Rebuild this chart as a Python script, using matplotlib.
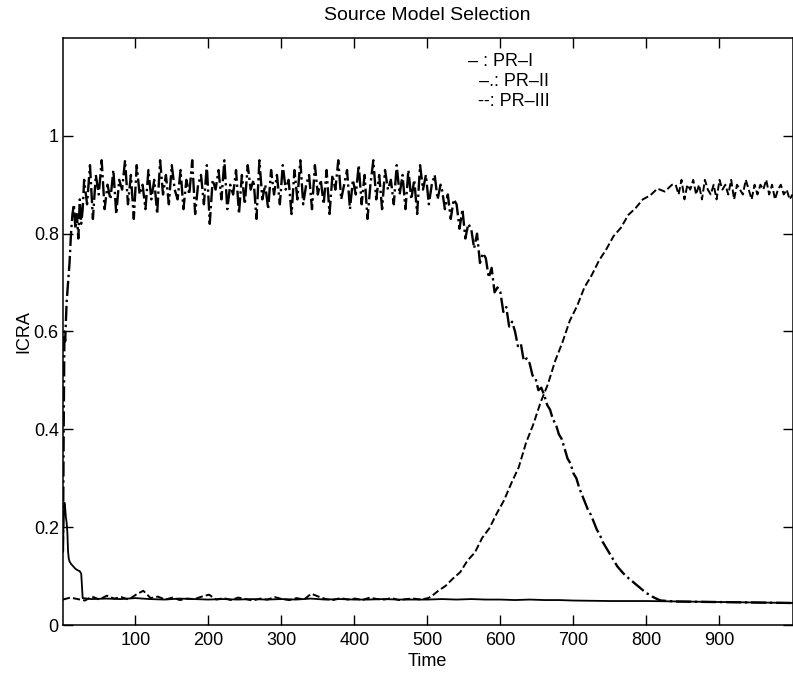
import numpy as np
import matplotlib
matplotlib.use("Agg")
import matplotlib.pyplot as plt

plt.rcParams['font.family'] = ['Liberation Sans', 'DejaVu Sans']

# PR-I (solid): short bump at the start, then sits near 0.05
t_pr1 = [1, 2, 3, 4, 5, 6, 7, 8, 9, 10, 12, 15, 18, 21, 24, 26, 27, 28,
         40, 60, 80, 100, 120, 140, 160, 180, 200, 220, 240, 260, 280, 300,
         320, 340, 360, 380, 400, 420, 440, 460, 480, 500, 520, 540, 560,
         580, 600, 620, 640, 660, 680, 700, 750, 800, 850, 900, 950, 1000]
pr1 = [0.15, 0.22, 0.25, 0.24, 0.22, 0.21, 0.19, 0.15, 0.135, 0.13, 0.125,
       0.12, 0.115, 0.112, 0.11, 0.105, 0.08, 0.055,
       0.053, 0.054, 0.053, 0.055, 0.053, 0.052, 0.054, 0.053, 0.052, 0.053,
       0.052, 0.053, 0.052, 0.053, 0.052, 0.054, 0.052, 0.053, 0.052, 0.052,
       0.053, 0.052, 0.052, 0.052, 0.053, 0.052, 0.053, 0.052, 0.052, 0.051,
       0.052, 0.051, 0.051, 0.050, 0.049, 0.049, 0.048, 0.047, 0.046, 0.045]

# PR-II (dash-dot): fast rise, noisy plateau, then decline
t_pr2_start = [1, 2, 3, 4, 6, 8, 10, 12, 14, 16, 18, 20, 22, 24, 26, 28]
pr2_start = [0.15, 0.40, 0.60, 0.58, 0.66, 0.70, 0.74, 0.80, 0.84, 0.86,
             0.81, 0.84, 0.79, 0.87, 0.82, 0.85]
pr2_plateau = [  # t = 30 .. 518, every 4
    0.91, 0.86, 0.94, 0.83, 0.92, 0.88, 0.95, 0.85, 0.90, 0.87,
    0.93, 0.84, 0.91, 0.89, 0.95, 0.86, 0.92, 0.83, 0.94, 0.88,
    0.90, 0.85, 0.93, 0.87, 0.91, 0.84, 0.95, 0.88, 0.92, 0.86,
    0.94, 0.89, 0.87, 0.93, 0.85, 0.91, 0.88, 0.95, 0.84, 0.90,
    0.92, 0.86, 0.94, 0.82, 0.91, 0.89, 0.93, 0.87, 0.95, 0.85,
    0.90, 0.88, 0.93, 0.84, 0.92, 0.86, 0.94, 0.89, 0.91, 0.83,
    0.95, 0.87, 0.90, 0.85, 0.93, 0.88, 0.92, 0.86, 0.94, 0.89,
    0.91, 0.84, 0.93, 0.87, 0.95, 0.86, 0.90, 0.92, 0.85, 0.94,
    0.88, 0.91, 0.86, 0.93, 0.84, 0.92, 0.89, 0.95, 0.87, 0.90,
    0.93, 0.85, 0.91, 0.88, 0.94, 0.86, 0.92, 0.83, 0.90, 0.95,
    0.87, 0.92, 0.85, 0.93, 0.89, 0.91, 0.86, 0.94, 0.88, 0.92,
    0.85, 0.93, 0.87, 0.91, 0.84, 0.94, 0.89, 0.92, 0.86, 0.90,
    0.92, 0.87, 0.90]
pr2_decline = [  # t = 520 .. 820, every 4
    0.89, 0.85, 0.88, 0.83, 0.87, 0.86, 0.81, 0.85, 0.79, 0.82,
    0.81, 0.77, 0.80, 0.74, 0.76, 0.75, 0.71, 0.73, 0.68, 0.69,
    0.68, 0.64, 0.65, 0.61, 0.62, 0.60, 0.57, 0.575, 0.54, 0.545,
    0.535, 0.51, 0.505, 0.48, 0.485, 0.47, 0.45, 0.44, 0.42, 0.41,
    0.39, 0.38, 0.36, 0.34, 0.33, 0.31, 0.30, 0.28, 0.265, 0.25,
    0.235, 0.225, 0.21, 0.195, 0.185, 0.17, 0.16, 0.15, 0.14, 0.13,
    0.12, 0.113, 0.106, 0.10, 0.095, 0.09, 0.085, 0.08, 0.075, 0.07,
    0.065, 0.062, 0.058, 0.055, 0.052, 0.05]
t_pr2_end = [840, 1000]
pr2_end = [0.048, 0.045]

# PR-III (dashed): low until ~500, rises, settles near 0.9
pr3_low = [  # t = 1 .. 501, every 10
    0.052, 0.056, 0.053, 0.050, 0.058, 0.052, 0.060, 0.054, 0.057, 0.052,
    0.062, 0.070, 0.055, 0.058, 0.052, 0.056, 0.051, 0.054, 0.053, 0.058,
    0.062, 0.052, 0.055, 0.051, 0.056, 0.053, 0.050, 0.054, 0.052, 0.057,
    0.053, 0.051, 0.055, 0.052, 0.064, 0.058, 0.053, 0.051, 0.055, 0.052,
    0.054, 0.051, 0.056, 0.053, 0.052, 0.055, 0.051, 0.053, 0.054, 0.052,
    0.055]
pr3_rise = [  # t = 505 .. 835, every 10
    0.058, 0.070, 0.080, 0.095, 0.108, 0.132, 0.148, 0.178, 0.198, 0.228,
    0.255, 0.290, 0.322, 0.372, 0.410, 0.455, 0.492, 0.540, 0.578, 0.622,
    0.652, 0.690, 0.715, 0.745, 0.768, 0.795, 0.812, 0.838, 0.852, 0.870,
    0.878, 0.892, 0.886, 0.900]
pr3_high = [  # t = 840 .. 1000, every 4
    0.90, 0.88, 0.91, 0.87, 0.90, 0.89, 0.91, 0.88, 0.90, 0.87,
    0.91, 0.89, 0.88, 0.90, 0.87, 0.91, 0.89, 0.90, 0.88, 0.91,
    0.87, 0.90, 0.89, 0.88, 0.91, 0.89, 0.87, 0.90, 0.88, 0.90,
    0.89, 0.91, 0.88, 0.90, 0.87, 0.89, 0.90, 0.88, 0.89, 0.87,
    0.88]

t_pr2 = np.concatenate([t_pr2_start, np.linspace(30, 518, len(pr2_plateau)),
                        np.linspace(520, 820, len(pr2_decline)), t_pr2_end])
pr2 = np.concatenate([pr2_start, pr2_plateau, pr2_decline, pr2_end])
t_pr3 = np.concatenate([np.linspace(1, 501, len(pr3_low)),
                        np.linspace(505, 835, len(pr3_rise)),
                        np.linspace(840, 1000, len(pr3_high))])
pr3 = np.concatenate([pr3_low, pr3_rise, pr3_high])

fig = plt.figure(figsize=(7.93, 6.74), dpi=100)
ax = fig.add_axes([0.0794, 0.0727, 0.92, 0.871])

ax.plot(t_pr1, pr1, '-', color='black', lw=1.3)
ax.plot(t_pr2, pr2, '-.', color='black', lw=1.7)
ax.plot(t_pr3, pr3, '--', color='black', lw=1.4)

ax.set_xlim(1, 1000)
ax.set_ylim(0, 1.2)
ax.set_xticks(range(100, 1000, 100))
ax.set_yticks([0, 0.2, 0.4, 0.6, 0.8, 1.0])
ax.set_yticklabels(['0', '0.2', '0.4', '0.6', '0.8', '1'])
ax.tick_params(direction='in', top=True, right=True, length=7, width=1,
               labelsize=13)
ax.tick_params(axis='x', pad=5)
ax.tick_params(axis='y', pad=3)
for s in ax.spines.values():
    s.set_linewidth(1.1)

ax.set_title('Source Model Selection', fontsize=14, pad=13)
ax.set_xlabel('Time', fontsize=13, labelpad=3)
ax.set_ylabel('ICRA', fontsize=13, labelpad=1)

# legend written as plain text lines, as in the original figure
legend_lines = ['\u2013 : PR\u2013I', '\u2013.: PR\u2013II', '--: PR\u2013III']
legend_x = [468, 479, 478]
legend_y = [62, 82, 101]
for s, x, y in zip(legend_lines, legend_x, legend_y):
    fig.text(x / 793, 1 - y / 674, s, fontsize=13, ha='left', va='center')

fig.savefig('out.png', dpi=100)
